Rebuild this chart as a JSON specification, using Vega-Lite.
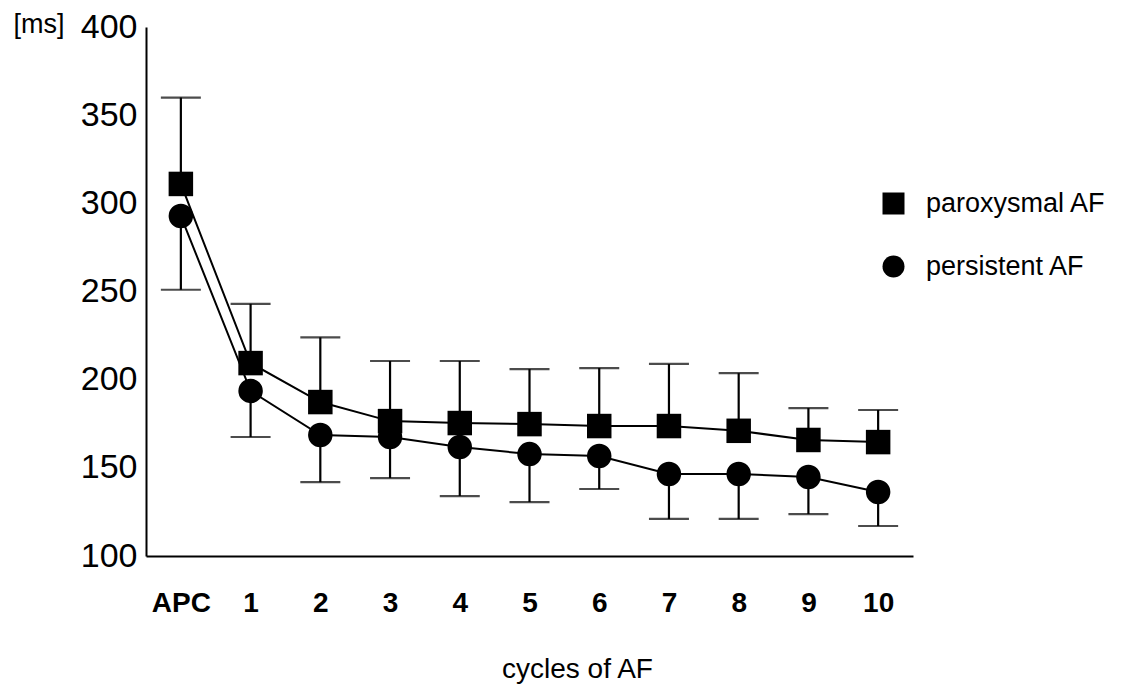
{
  "$schema": "https://vega.github.io/schema/vega-lite/v6.json",
  "width": 767,
  "height": 529,
  "autosize": "none",
  "padding": {"left": 146, "top": 27, "right": 217, "bottom": 129},
  "background": "white",
  "config": {
    "view": {"stroke": null},
    "font": "Liberation Sans"
  },
  "data": {
    "values": [
      {"cycle": "APC", "series": "paroxysmal AF", "ms": 311, "err": 360},
      {"cycle": "1", "series": "paroxysmal AF", "ms": 209.4, "err": 243},
      {"cycle": "2", "series": "paroxysmal AF", "ms": 187.3, "err": 224},
      {"cycle": "3", "series": "paroxysmal AF", "ms": 176.5, "err": 210.6},
      {"cycle": "4", "series": "paroxysmal AF", "ms": 175.4, "err": 210.6},
      {"cycle": "5", "series": "paroxysmal AF", "ms": 174.8, "err": 206},
      {"cycle": "6", "series": "paroxysmal AF", "ms": 173.7, "err": 206.6},
      {"cycle": "7", "series": "paroxysmal AF", "ms": 173.7, "err": 208.9},
      {"cycle": "8", "series": "paroxysmal AF", "ms": 171, "err": 203.7},
      {"cycle": "9", "series": "paroxysmal AF", "ms": 165.8, "err": 183.9},
      {"cycle": "10", "series": "paroxysmal AF", "ms": 164.6, "err": 182.8},
      {"cycle": "APC", "series": "persistent AF", "ms": 292.8, "err": 251},
      {"cycle": "1", "series": "persistent AF", "ms": 193.6, "err": 167.5},
      {"cycle": "2", "series": "persistent AF", "ms": 168.6, "err": 141.9},
      {"cycle": "3", "series": "persistent AF", "ms": 167.5, "err": 144.2},
      {"cycle": "4", "series": "persistent AF", "ms": 161.8, "err": 134},
      {"cycle": "5", "series": "persistent AF", "ms": 157.8, "err": 130.6},
      {"cycle": "6", "series": "persistent AF", "ms": 156.7, "err": 138},
      {"cycle": "7", "series": "persistent AF", "ms": 146.5, "err": 121},
      {"cycle": "8", "series": "persistent AF", "ms": 146.5, "err": 121},
      {"cycle": "9", "series": "persistent AF", "ms": 144.8, "err": 123.8},
      {"cycle": "10", "series": "persistent AF", "ms": 136.3, "err": 117}
    ]
  },
  "encoding": {
    "x": {
      "field": "cycle",
      "type": "nominal",
      "sort": ["APC", "1", "2", "3", "4", "5", "6", "7", "8", "9", "10"],
      "scale": {"type": "point", "padding": 0.5},
      "axis": {
        "title": "cycles of AF",
        "labelAngle": 0,
        "labelFontSize": 28,
        "labelFontWeight": "bold",
        "labelColor": "black",
        "labelPadding": 33,
        "ticks": false,
        "domainColor": "black",
        "domainWidth": 2,
        "grid": false,
        "titleFontSize": 28,
        "titleFontWeight": "normal",
        "titleColor": "black",
        "titleX": 431,
        "titleY": 121,
        "titleAlign": "center",
        "titleBaseline": "alphabetic"
      }
    }
  },
  "layer": [
    {
      "mark": {"type": "rule", "color": "black", "strokeWidth": 2.2},
      "encoding": {
        "y": {"field": "ms", "type": "quantitative"},
        "y2": {"field": "err"}
      }
    },
    {
      "mark": {"type": "tick", "color": "black", "thickness": 2.2, "size": 40, "orient": "horizontal"},
      "encoding": {
        "y": {"field": "err", "type": "quantitative"}
      }
    },
    {
      "mark": {"type": "line", "color": "black", "strokeWidth": 2},
      "encoding": {
        "y": {"field": "ms", "type": "quantitative"},
        "detail": {"field": "series", "type": "nominal"}
      }
    },
    {
      "mark": {"type": "point", "filled": true, "opacity": 1, "color": "black", "size": 600},
      "encoding": {
        "y": {
          "field": "ms",
          "type": "quantitative",
          "scale": {"domain": [100, 400], "nice": false, "zero": false},
          "axis": {
            "values": [100, 150, 200, 250, 300, 350, 400],
            "labelFontSize": 34,
            "labelColor": "black",
            "labelPadding": 9,
            "ticks": false,
            "grid": false,
            "domainColor": "black",
            "domainWidth": 2,
            "title": "[ms]",
            "titleAngle": 0,
            "titleFontSize": 27,
            "titleFontWeight": "normal",
            "titleColor": "black",
            "titleAlign": "left",
            "titleBaseline": "alphabetic",
            "titleX": -133,
            "titleY": 5
          }
        },
        "shape": {
          "field": "series",
          "type": "nominal",
          "scale": {"domain": ["paroxysmal AF", "persistent AF"], "range": ["square", "circle"]},
          "legend": {
            "title": null,
            "orient": "none",
            "legendX": 734,
            "legendY": 163,
            "padding": 0,
            "symbolSize": 484,
            "symbolFillColor": "black",
            "symbolStrokeColor": "black",
            "symbolType": "circle",
            "labelFontSize": 27,
            "labelLimit": 0,
            "labelColor": "black",
            "labelOffset": 19,
            "rowPadding": 34
          }
        }
      }
    }
  ]
}
